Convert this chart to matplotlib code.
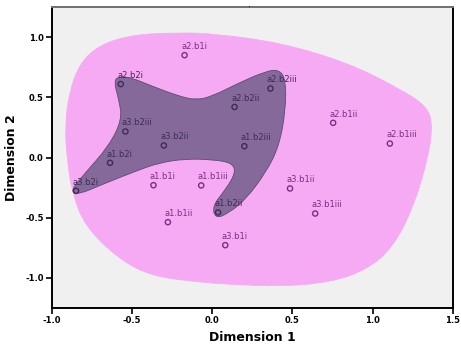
import matplotlib
matplotlib.use("Agg")
import matplotlib.pyplot as plt
from matplotlib.path import Path
from matplotlib.patches import PathPatch

# ---- data ----
labels = ["a2.b1i", "a2.b2i", "a3.b2iii", "a3.b2ii", "a1.b2i", "a2.b2iii",
          "a2.b2ii", "a1.b2iii", "a2.b1ii", "a2.b1iii", "a3.b2i", "a1.b1i",
          "a1.b1iii", "a1.b2ii", "a1.b1ii", "a3.b1i", "a3.b1ii", "a3.b1iii"]
dim1 = [-0.173, -0.571, -0.542, -0.302, -0.638, 0.363,
        0.139, 0.200, 0.754, 1.108, -0.850, -0.367,
        -0.069, 0.036, -0.277, 0.081, 0.485, 0.642]
dim2 = [0.850, 0.610, 0.216, 0.100, -0.044, 0.573,
        0.420, 0.094, 0.288, 0.116, -0.277, -0.230,
        -0.232, -0.456, -0.537, -0.728, -0.257, -0.465]

# region outlines (data coordinates)
outer_x = [-0.825, -0.70, -0.494, -0.20, 0.006, 0.425, 0.844, 1.156, 1.344, 1.375,
           1.344, 1.256, 1.131, 0.969, 0.738, 0.425, 0.113, -0.063, -0.375, -0.581,
           -0.794, -0.875, -0.906, -0.919, -0.894]
outer_y = [0.788, 0.938, 1.021, 1.037, 1.029, 0.954, 0.788, 0.581, 0.423, 0.257,
           -0.017, -0.407, -0.739, -0.929, -1.037, -1.071, -1.054, -1.037, -0.988, -0.846,
           -0.573, -0.290, -0.017, 0.257, 0.539]
inner_x = [-0.614, -0.583, -0.50, -0.375, -0.208, -0.10, 0.0, 0.167, 0.333, 0.417,
           0.458, 0.458, 0.417, 0.333, 0.208, 0.104, 0.021, 0.0, 0.083, 0.146,
           0.125, 0.0, -0.167, -0.333, -0.479, -0.6875, -0.833, -0.8875, -0.792, -0.646,
           -0.5625, -0.583]
inner_y = [0.631, 0.675, 0.661, 0.592, 0.509, 0.477, 0.509, 0.620, 0.716, 0.730,
           0.647, 0.398, 0.094, -0.127, -0.349, -0.459, -0.509, -0.404, -0.266, -0.127,
           -0.044, -0.017, -0.011, -0.044, -0.114, -0.224, -0.307, -0.282, -0.127, 0.094,
           0.315, 0.481]

xticks = [-1.0, -0.5, 0.0, 0.5, 1.0, 1.5]
yticks = [-1.0, -0.5, 0.0, 0.5, 1.0]


def smooth_path(xs, ys):
    """Closed quadratic-Bezier path using the outline points as control points."""
    n = len(xs)
    pts = list(zip(xs, ys))
    mids = [((pts[i][0] + pts[(i + 1) % n][0]) / 2, (pts[i][1] + pts[(i + 1) % n][1]) / 2)
            for i in range(n)]
    verts = [mids[-1]]
    codes = [Path.MOVETO]
    for i in range(n):
        verts += [pts[i], mids[i]]
        codes += [Path.CURVE3, Path.CURVE3]
    return Path(verts, codes)


fig = plt.figure(figsize=(4.61, 3.45), dpi=100)
ax = fig.add_axes([0.1128, 0.1072, 0.8692, 0.8725])
ax.set_facecolor("#f0f0f0")

ax.add_patch(PathPatch(smooth_path(outer_x, outer_y), facecolor="#f6aaf4",
                       edgecolor="#f6aaf4", lw=0.5, zorder=1))
ax.add_patch(PathPatch(smooth_path(inner_x, inner_y), facecolor="#85699b",
                       edgecolor="#5e4a6e", lw=0.6, zorder=2))

for lab, x, y in zip(labels, dim1, dim2):
    col = "#3f2b55" if ".b2" in lab else "#7b2d83"
    ax.scatter([x], [y], s=14, facecolors="none", edgecolors=col, linewidths=1.0, zorder=4)
    ax.annotate(lab, (x, y), xytext=(-2.5, 3.0), textcoords="offset points",
                ha="left", va="bottom", fontsize=6, color=col, zorder=5)

ax.set_xlim(-1.0, 1.5)
ax.set_ylim(-1.25, 1.25)
ax.set_xticks(xticks)
ax.set_yticks(yticks)
ax.set_xticklabels([f"{t:.1f}" for t in xticks])
ax.set_yticklabels([f"{t:.1f}" for t in yticks])
ax.tick_params(axis="both", direction="out", length=4, width=1.2, labelsize=6,
               pad=2, colors="black")
for lab in ax.get_xticklabels() + ax.get_yticklabels():
    lab.set_fontweight("bold")

for side in ["left", "bottom", "right"]:
    ax.spines[side].set_linewidth(1.4)
    ax.spines[side].set_color("black")
ax.spines["top"].set_linewidth(1.4)
ax.spines["top"].set_color("#707070")

ax.set_xlabel("Dimension 1", fontsize=9, fontweight="bold", labelpad=4)
ax.set_ylabel("Dimension 2", fontsize=9, fontweight="bold", labelpad=5)
fig.text(0.542, 0.975, ".", ha="center", va="bottom", fontsize=7)

fig.savefig("out.png", dpi=100, facecolor="white")
